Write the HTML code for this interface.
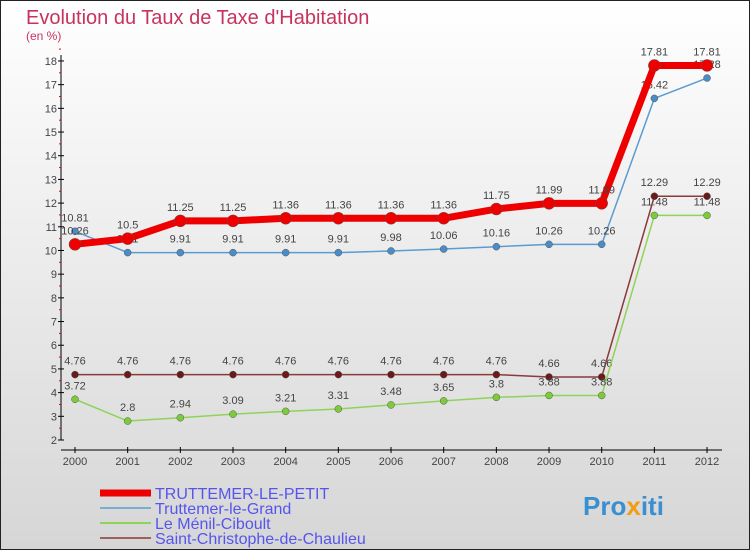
<!DOCTYPE html>
<html><head><meta charset="utf-8"><style>
body{margin:0}
#c{width:750px;height:550px;position:relative;overflow:hidden;font-family:"Liberation Sans",sans-serif}
</style></head><body>
<div id="c">
<svg id="s" width="750" height="550" xmlns="http://www.w3.org/2000/svg">
<defs><linearGradient id="bg" x1="0" y1="0" x2="0" y2="1"><stop offset="0" stop-color="#ffffff"/><stop offset="1" stop-color="#d6d6d6"/></linearGradient></defs>
<rect x="0.5" y="0.5" width="749" height="549" fill="url(#bg)" stroke="#222"/>
<text x="26" y="24" font-size="20" fill="#c8325e">Evolution du Taux de Taxe d'Habitation</text>
<text x="26" y="40" font-size="12" fill="#c8325e">(en %)</text>
<g id="axes"></g><g id="series"></g><g id="legend"></g>
<text x="583" y="515" font-size="26" font-weight="bold" fill="#3a8fd0">Pro<tspan fill="#f39c12">x</tspan>iti</text>
</svg></div>
<script>
const years=[2000,2001,2002,2003,2004,2005,2006,2007,2008,2009,2010,2011,2012];
const yTicks=[2,3,4,5,6,7,8,9,10,11,12,13,14,15,16,17,18];
const names=["TRUTTEMER-LE-PETIT","Truttemer-le-Grand","Le Ménil-Ciboult","Saint-Christophe-de-Chaulieu"];
const sPetit=[10.26,10.5,11.25,11.25,11.36,11.36,11.36,11.36,11.75,11.99,11.99,17.81,17.81];
const sGrand=[10.81,9.91,9.91,9.91,9.91,9.91,9.98,10.06,10.16,10.26,10.26,16.42,17.28];
const sMenil=[3.72,2.8,2.94,3.09,3.21,3.31,3.48,3.65,3.8,3.88,3.88,11.48,11.48];
const sSaint=[4.76,4.76,4.76,4.76,4.76,4.76,4.76,4.76,4.76,4.66,4.66,12.29,12.29];
const NS="http://www.w3.org/2000/svg";
const xS=i=>75+i*52.67, yS=v=>440-(v-2)*23.69;
function mk(t,a,p){const e=document.createElementNS(NS,t);for(const k in a)e.setAttribute(k,a[k]);p.appendChild(e);return e;}
const ax=document.getElementById('axes');
let l=mk('line',{x1:61,y1:55,x2:61,y2:440,stroke:'#000'},ax);


l=mk('line',{x1:61,y1:450,x2:722,y2:450,stroke:'#000'},ax);


yTicks.forEach(v=>{mk('line',{x1:58,x2:64,y1:yS(v),y2:yS(v),stroke:'#000'},ax);
 mk('line',{x1:59,x2:61,y1:yS(v+0.5),y2:yS(v+0.5),stroke:'#e00'},ax);
 const t=mk('text',{x:57,y:yS(v)+4,'font-size':11,fill:'#444','text-anchor':'end'},ax);t.textContent=v;
 
 });
years.forEach((y,i)=>{mk('line',{x1:xS(i),x2:xS(i),y1:447,y2:453,stroke:'#000'},ax);
 const t=mk('text',{x:xS(i),y:465,'font-size':11,fill:'#444','text-anchor':'middle'},ax);t.textContent=y;
 
 });
const sg=document.getElementById('series');
function draw(arr,col,w,r,dot,labels,nm){
 const g=mk('g',{},sg);
 
 
 mk('polyline',{points:arr.map((v,i)=>xS(i)+','+yS(v)).join(' '),fill:'none',stroke:col,'stroke-width':w,'stroke-linejoin':'round'},g);
 arr.forEach((v,i)=>{const c=mk('circle',{cx:xS(i),cy:yS(v),r:r,fill:dot,stroke:'#555','stroke-width':0.5},g);
  
  
  if(labels){const t=mk('text',{x:xS(i),y:yS(v)-10,'font-size':11,fill:'#444','text-anchor':'middle'},g);t.textContent=v;}});
}
draw(sSaint,'#8a3a3a',1.5,3.5,'#6a1a1a',true,'series-saint-christophe');
draw(sMenil,'#8fd35a',1.5,3.5,'#7ccc3a',true,'series-menil-ciboult');
draw(sGrand,'#5b9bd0',1.5,3.5,'#4a8cc8',true,'series-truttemer-le-grand');
draw(sPetit,'#ee0000',7,6,'#ee0000',true,'series-truttemer-le-petit');
const lg=document.getElementById('legend');
const cols=['#ee0000','#7aaed0','#8fd35a','#a06060'],ws=[7,2,2,2];
names.forEach((n,i)=>{const y=493+i*15;
 const g=mk('g',{},lg);
 
 
 mk('line',{x1:100,x2:151,y1:y,y2:y,stroke:cols[i],'stroke-width':ws[i]},g);
 const t=mk('text',{x:155,y:y+6,'font-size':16,fill:'#5555ee'},g);t.textContent=n;});
</script>
</body></html>
